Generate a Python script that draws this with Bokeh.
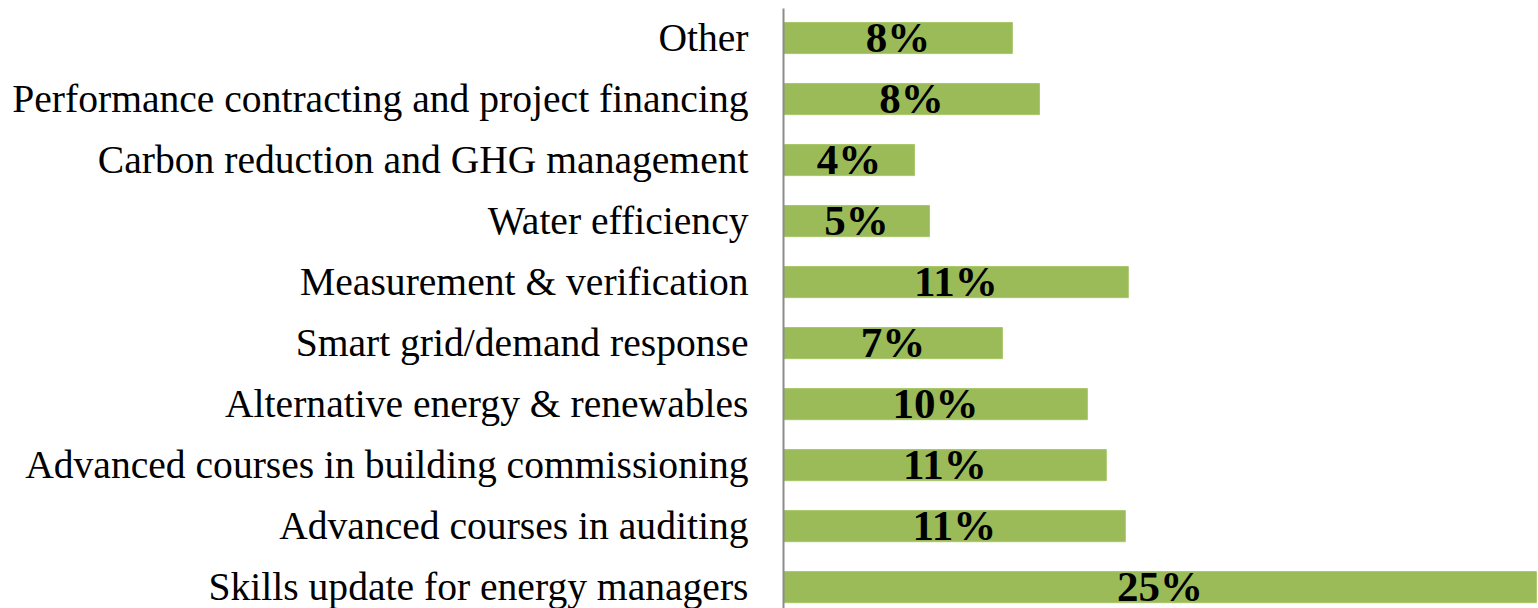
from bokeh.plotting import figure
from bokeh.models import Range1d, FixedTicker, ColumnDataSource
from bokeh.core.properties import value
from bokeh.embed import file_html
from bokeh.resources import INLINE

categories = [
    "Other",
    "Performance contracting and project financing",
    "Carbon reduction and GHG management",
    "Water efficiency",
    "Measurement & verification",
    "Smart grid/demand response",
    "Alternative energy & renewables",
    "Advanced courses in building commissioning",
    "Advanced courses in auditing",
    "Skills update for energy managers",
]
values = [7.6, 8.5, 4.35, 4.85, 11.45, 7.27, 10.09, 10.72, 11.35, 25.0]
labels = ["8%", "8%", "4%", "5%", "11%", "7%", "10%", "11%", "11%", "25%"]

n = len(categories)
ypos = [n - 1 - i for i in range(n)]
src = ColumnDataSource(dict(
    y=ypos, v=values, mid=[v / 2 for v in values], lab=labels, cat=categories,
))

p = figure(width=1538, height=608, output_backend="svg", toolbar_location=None,
           x_range=Range1d(0, 25.07), y_range=Range1d(-0.35, n - 1 + 0.484),
           min_border_left=783, min_border_top=8, min_border_bottom=0, min_border_right=0)
p.outline_line_color = None
p.xgrid.visible = False
p.ygrid.visible = False
p.xaxis.visible = False
p.background_fill_color = "white"
p.border_fill_color = "white"

p.hbar(y="y", right="v", left=0, height=0.51, source=src,
       fill_color="#9BBB59", line_color="#A9C76B", line_width=1)

p.text(x="mid", y="y", text="lab", source=src, text_align="center",
       text_baseline="alphabetic", y_offset=-1,
       text_font=value("Liberation Serif"), text_font_style="bold",
       text_font_size="43px", text_color="black")

ax = p.yaxis[0]
ax.ticker = FixedTicker(ticks=ypos)
ax.major_label_overrides = {y: c for y, c in zip(ypos, categories)}
ax.major_tick_line_color = None
ax.minor_tick_line_color = None
ax.axis_line_color = "#8C8C8C"
ax.axis_line_width = 2
ax.major_label_standoff = 29
ax.major_label_text_font = "Liberation Serif"
ax.major_label_text_font_size = "39.6px"
ax.major_label_text_color = "black"

open("out.html", "w").write(file_html(p, INLINE))
